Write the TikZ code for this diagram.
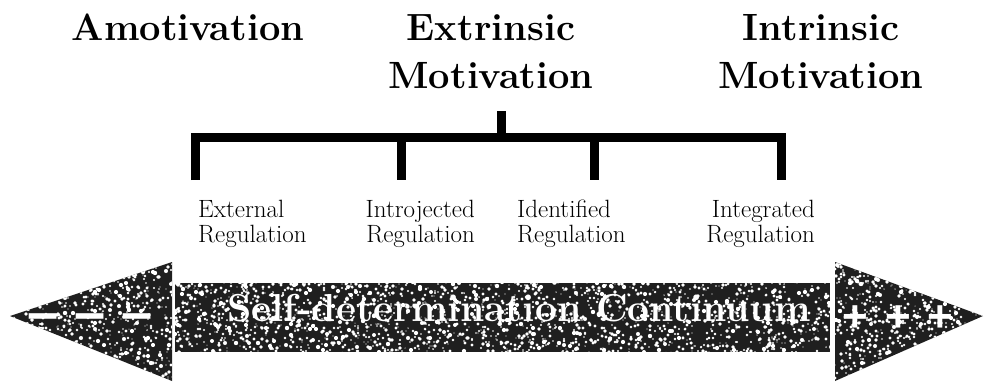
\documentclass[tikz,border=0pt]{standalone}
\usepackage{fontspec}
\newfontfamily\dashfont{Liberation Sans}
\begin{document}
\begin{tikzpicture}[x=1pt,y=-1pt,
  title/.style={font=\fontsize{38}{48}\selectfont\bfseries, inner sep=0pt, align=center},
  lab/.style={font=\fontsize{25}{25}\selectfont, inner sep=0pt},
  brk/.style={line width=9pt, line cap=butt, line join=miter},
  arrowfill/.style={fill=black!88},
  speck/.style={fill=white},
  ontext/.style={text=white, inner sep=0pt}]
\useasboundingbox (0,0) rectangle (986,381);

% titles
\node[title, anchor=base] (amot) at (188,40) {Amotivation};
\node[title, anchor=base] (extr) at (491,88) {Extrinsic\\Motivation};
\node[title, anchor=base] (intr) at (821,88) {Intrinsic\\Motivation};

% regulation labels
\node[lab, align=left, anchor=base west] (ext) at (198,242) {External\\Regulation};
\node[lab, align=right, anchor=base east] (intro) at (475,242) {Introjected\\Regulation};
\node[lab, align=left, anchor=base west] (iden) at (517,242) {Identified\\Regulation};
\node[lab, align=right, anchor=base east] (integ) at (815,242) {Integrated\\Regulation};

% bracket
\coordinate (stemtop) at (501,111);
\coordinate (junc) at (501,137);
\coordinate (b1) at (195,137);
\coordinate (b2) at (401,137);
\coordinate (b3) at (594,137);
\coordinate (b4) at (781,137);
\coordinate (e1) at (195,180);
\coordinate (e2) at (401,180);
\coordinate (e3) at (594,180);
\coordinate (e4) at (781,180);
\draw[brk] (e1) -- (b1) -- (b4) -- (e4);
\draw[brk] (stemtop) -- (junc);
\draw[brk] (b2) -- (e2);
\draw[brk] (b3) -- (e3);

% continuum arrow
\coordinate (ltip) at (10,316);
\coordinate (lt) at (172,262);
\coordinate (lb) at (172,381);
\coordinate (rtip) at (983,316);
\coordinate (rt) at (835,262);
\coordinate (rb) at (835,381);
\coordinate (bodytl) at (175,283);
\coordinate (bodybr) at (830,352);
\fill[arrowfill] (lt) -- (ltip) -- (lb) -- cycle;
\fill[arrowfill] (rt) -- (rtip) -- (rb) -- cycle;
\fill[arrowfill] (bodytl) rectangle (bodybr);
\begin{scope}
  \clip (lt) -- (ltip) -- (lb) -- cycle (rt) -- (rtip) -- (rb) -- cycle (bodytl) rectangle (bodybr);
  \pgfmathsetseed{7}
  \foreach \i in {1,...,4500}{
    \pgfmathsetmacro\px{random(8,985)}
    \pgfmathsetmacro\py{random(262,381)}
    \pgfmathsetmacro\pr{0.5+1.7*rnd}
    \fill[speck] (\px,\py) circle[radius=\pr];
  }
\end{scope}

\node[ontext, font=\fontsize{39}{39}\selectfont\bfseries, anchor=base] (sdc) at (519,321) {Self-determination Continuum};
\node[ontext, font=\dashfont\bfseries\fontsize{56}{56}\selectfont, anchor=base] (minus) at (90,331) {– – –};
\node[ontext, font=\dashfont\bfseries\fontsize{44}{44}\selectfont, anchor=base] (plus) at (898,331) {+\hspace{17pt}+\hspace{17pt}+};
\end{tikzpicture}
\end{document}
